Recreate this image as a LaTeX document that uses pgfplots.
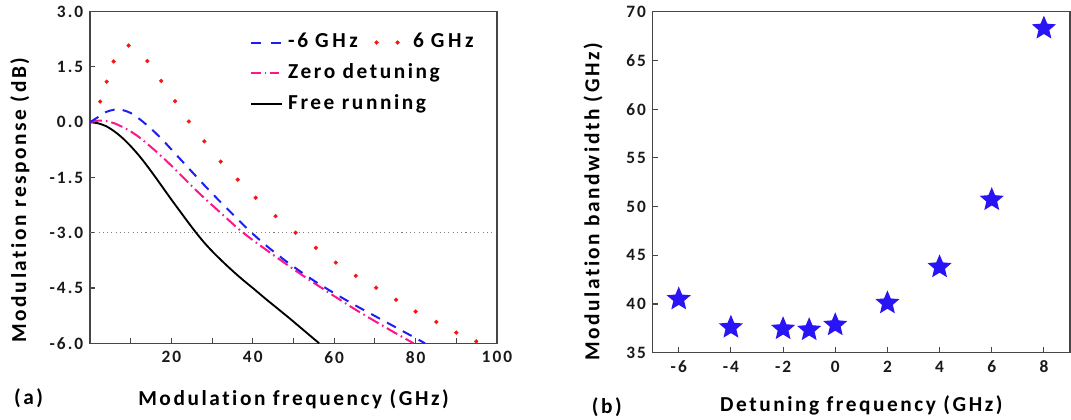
\documentclass[border=0pt]{standalone}
\usepackage{fontspec}
\setmainfont{Carlito}
\newfontfamily\lsf{Carlito}[LetterSpace=12, Ligatures=NoCommon]
\usepackage{pgfplots}
\usepackage{pgfplotstable}
\pgfplotsset{compat=1.18}
\definecolor{myblue}{RGB}{30,30,240}
\definecolor{mypink}{RGB}{255,20,140}
\definecolor{myred}{RGB}{250,20,20}
\definecolor{starblue}{RGB}{40,20,245}
\definecolor{framec}{RGB}{70,70,70}
\pgfdeclareplotmark{fstar}{%
 \pgfpathmoveto{\pgfpointpolar{90}{\pgfplotmarksize}}%
 \pgfpathlineto{\pgfpointpolar{126}{0.45\pgfplotmarksize}}%
 \pgfpathlineto{\pgfpointpolar{162}{\pgfplotmarksize}}%
 \pgfpathlineto{\pgfpointpolar{198}{0.45\pgfplotmarksize}}%
 \pgfpathlineto{\pgfpointpolar{234}{\pgfplotmarksize}}%
 \pgfpathlineto{\pgfpointpolar{270}{0.45\pgfplotmarksize}}%
 \pgfpathlineto{\pgfpointpolar{306}{\pgfplotmarksize}}%
 \pgfpathlineto{\pgfpointpolar{342}{0.45\pgfplotmarksize}}%
 \pgfpathlineto{\pgfpointpolar{18}{\pgfplotmarksize}}%
 \pgfpathlineto{\pgfpointpolar{54}{0.45\pgfplotmarksize}}%
 \pgfpathclose
 \pgfusepathqfill}
\pgfplotsset{
  common/.style={
    scale only axis, anchor=south west,
    xtick pos=bottom, ytick pos=left, tick align=inside,
    major tick length=4pt, minor tick length=4pt,
    every tick/.style={framec, line width=0.8pt},
    axis line style={framec, line width=1.1pt},
    tick label style={font=\lsf\bfseries\fontsize{13}{14}\selectfont, text=black!90},
    xticklabel style={yshift=-2.5pt},
    yticklabel style={xshift=-1.5pt},
    label style={font=\lsf\bfseries\fontsize{16}{18}\selectfont},
  }
}
\pgfplotstableread{
x y
0 0
2 -0.03
4 -0.11
6 -0.25
8 -0.43
10 -0.65
12 -0.9
14 -1.18
16 -1.48
18 -1.79
20 -2.1
22 -2.4
24 -2.7
26 -2.99
28 -3.26
30 -3.5
32 -3.72
34 -3.93
36 -4.13
38 -4.32
40 -4.5
43 -4.78
46 -5.05
49 -5.32
52 -5.6
55 -5.88
56.3 -6.0
}\freerun
\pgfplotstableread{
x y
0 0
2 0.14
4 0.28
6 0.34
8 0.33
10 0.25
12 0.1
14 -0.08
16 -0.28
18 -0.5
20 -0.74
22 -0.98
24 -1.22
26 -1.46
28 -1.7
30 -1.93
32 -2.16
34 -2.38
36 -2.6
38 -2.82
40 -3.03
43 -3.32
46 -3.59
50 -3.92
55 -4.3
60 -4.64
65 -4.96
70 -5.26
75 -5.56
80 -5.86
82.3 -6.0
}\negsix
\pgfplotstableread{
x y
0 0
2 0.04
4 0.03
6 -0.03
8 -0.13
10 -0.25
12 -0.4
14 -0.58
16 -0.77
18 -0.97
20 -1.18
22 -1.4
24 -1.62
26 -1.84
28 -2.05
30 -2.25
33 -2.55
36 -2.85
38 -3.03
40 -3.2
45 -3.6
50 -3.99
55 -4.36
60 -4.72
65 -5.07
70 -5.4
75 -5.72
79 -5.97
79.5 -6.0
}\zerodet
\pgfplotstableread{
x y
2.5 0.56
4.1 1.10
5.8 1.65
9.5 2.08
14.1 1.66
17.5 1.12
20.9 0.57
24.3 0.02
28.1 -0.52
32.1 -1.07
36.3 -1.56
40.7 -2.05
45.6 -2.55
50.5 -3.0
55.5 -3.41
60.4 -3.81
65.3 -4.17
70.3 -4.49
75.2 -4.82
80.0 -5.14
85.1 -5.42
90.0 -5.71
94.9 -5.95
}\possix
\pgfplotstableread{
x y
-6 40.5
-4 37.6
-2 37.45
-1 37.35
0 37.85
2 40.1
4 43.8
6 50.7
8 68.3
}\bw
\begin{document}
\begin{tikzpicture}
\useasboundingbox (0,0) rectangle (803.25pt,314.25pt);
\begin{axis}[common,
  at={(67.5pt,56.8pt)}, width=305.25pt, height=248.7pt,
  xmin=0, xmax=100, ymin=-6, ymax=3,
  clip mode=individual,
  xtick={20,40,60,80,100}, xticklabels={20,40,60,80,100},
  minor xtick={10,30,50,70,90},
  ytick={-6,-4.5,-3,-1.5,0,1.5,3},
  yticklabels={-6.0,-4.5,-3.0,-1.5,0.0,1.5,3.0},
  xlabel={Modulation frequency (GHz)},
  ylabel={Modulation response (dB)},
  xlabel style={at={(axis description cs:0.5,-0.17)}, anchor=center},
  ylabel style={at={(axis description cs:-0.172,0.432)}, anchor=center},
  legend columns=2,
  legend cell align=left,
  legend image code/.code={\draw[#1] (0pt,0pt) -- (23pt,0pt);},
  legend style={at={(axis description cs:0.393,0.94)}, anchor=north west,
    draw=none, fill=none, inner sep=0pt,
    font=\lsf\bfseries\fontsize{16}{18}\selectfont,
    nodes={inner ysep=1pt, inner xsep=4pt, text height=11pt, text depth=3pt},
    row sep=7pt,
    /tikz/every even column/.append style={column sep=8pt}},
]
\addplot[gray, line width=0.7pt, dash pattern=on 0.8pt off 2.4pt, forget plot] coordinates {(0,-3) (99,-3)};
\addplot[black, line width=1.4pt, smooth, forget plot] table {\freerun};
\addplot[mypink, line width=1.5pt, smooth, dash pattern=on 9pt off 3pt on 1.2pt off 3pt, forget plot] table {\zerodet};
\addplot[myblue, line width=1.5pt, smooth, dash pattern=on 7.5pt off 6pt, forget plot] table {\negsix};
\addplot[myred, only marks, mark=*, mark size=1.4pt, forget plot] table {\possix};
\addlegendimage{myblue, line width=1.5pt, dash pattern=on 7pt off 8pt}
\addlegendentry{-6\,\,G\,H\,z}
\addlegendimage{legend image code/.code={\fill[myred] (2pt,0pt) circle (1.4pt); \fill[myred] (17.75pt,0pt) circle (1.4pt);}}
\addlegendentry{\hspace{6pt}6\,\,G\,H\,z}
\addlegendimage{mypink, line width=1.5pt, dash pattern=on 7pt off 3pt on 1.2pt off 3pt}
\addlegendentry{\makebox[0pt][l]{Zero detuning}}
\addlegendimage{empty legend}
\addlegendentry{}
\addlegendimage{black, line width=1.4pt}
\addlegendentry{\makebox[0pt][l]{Free running}}
\addlegendimage{empty legend}
\addlegendentry{}
\node[font=\lsf\bfseries\fontsize{16}{18}\selectfont, anchor=center] at (axis description cs:-0.151,-0.165) {(a)};
\end{axis}
\begin{axis}[common,
  at={(489.5pt,49.7pt)}, width=313pt, height=255.75pt,
  xmin=-7, xmax=9, ymin=35, ymax=70,
  xtick={-6,-4,-2,0,2,4,6,8}, xticklabels={-6,-4,-2,0,2,4,6,8},
  ytick={35,40,45,50,55,60,65,70}, yticklabels={35,40,45,50,55,60,65,70},
  xlabel={Detuning frequency (GHz)},
  ylabel={Modulation bandwidth (GHz)},
  xlabel style={at={(axis description cs:0.5,-0.153)}, anchor=center},
  ylabel style={at={(axis description cs:-0.143,0.442)}, anchor=center},
  clip=false,
]
\addplot[starblue, only marks, mark=fstar, mark size=9.5pt] table {\bw};
\node[font=\lsf\bfseries\fontsize{16}{18}\selectfont, anchor=center] at (axis description cs:-0.11,-0.159) {(b)};
\end{axis}
\end{tikzpicture}
\end{document}
